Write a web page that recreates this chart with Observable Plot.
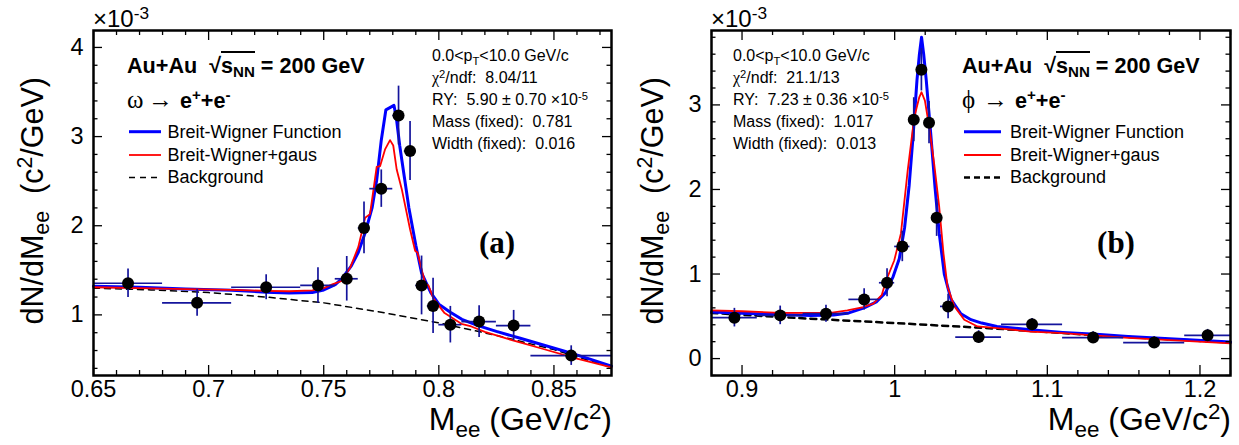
<!DOCTYPE html>
<html><head><meta charset="utf-8">
<script src="https://cdn.jsdelivr.net/npm/d3@7"></script>
<script src="https://cdn.jsdelivr.net/npm/@observablehq/plot@0.6"></script>
<style>
body{margin:0;background:#fff;}
#wrap{position:relative;width:1239px;height:445px;overflow:hidden;font-family:"Liberation Sans",Arial,sans-serif;}
.panel{position:absolute;top:0;height:445px;}
.t{position:absolute;white-space:nowrap;line-height:1;color:#000;}
.sb,.sp{position:relative;font-size:0.7em;line-height:0;vertical-align:baseline;}
.sb{top:0.3em}.sp{top:-0.5em}
.ser{font-family:"Liberation Serif","Times New Roman",serif;}
svg.ov{position:absolute;left:0;top:0;pointer-events:none;}
</style></head><body>
<div id="wrap"><div id="pa" class="panel" style="left:0;width:620px"></div><div id="pb" class="panel" style="left:620px;width:619px"></div></div>
<script>
// ---------- Panel (a): omega -> e+e- ----------
const omegaX   = [0.665,0.695,0.725,0.7475,0.76,0.7675,0.775,0.7825,0.7875,0.7925,0.7975,0.805,0.8175,0.8325,0.8575];
const omegaY   = [1.355,1.135,1.31,1.33,1.405,1.975,2.416,3.236,2.838,1.33,1.10,0.89,0.925,0.88,0.543];
const omegaErr = [0.16,0.15,0.14,0.20,0.25,0.29,0.21,0.33,0.33,0.33,0.31,0.205,0.178,0.17,0.11];
const omegaLo  = [0.65,0.68,0.71,0.74,0.755,0.765,0.77,0.78,0.785,0.79,0.795,0.80,0.81,0.825,0.84];
const omegaHi  = [0.68,0.71,0.74,0.755,0.765,0.77,0.78,0.785,0.79,0.795,0.80,0.81,0.825,0.84,0.875];
const omegaBWx = [0.65,0.67,0.69,0.71,0.725,0.735,0.745,0.75,0.755,0.758,0.762,0.765,0.768,0.771,0.773,0.775,0.777,0.7805,0.7815,0.783,0.785,0.787,0.79,0.7925,0.7965,0.80,0.805,0.81,0.817,0.825,0.835,0.845,0.855,0.865,0.875];
const omegaBWy = [1.32,1.31,1.29,1.275,1.255,1.245,1.25,1.28,1.34,1.41,1.55,1.70,1.92,2.20,2.51,2.96,3.30,3.35,3.22,2.90,2.55,2.20,1.78,1.47,1.25,1.12,1.03,0.95,0.88,0.815,0.74,0.665,0.59,0.51,0.425];
const omegaBWGx = [0.65,0.67,0.69,0.71,0.725,0.735,0.745,0.75,0.754,0.7578,0.7615,0.765,0.768,0.7701,0.7723,0.773,0.7745,0.7767,0.7788,0.7802,0.7817,0.7839,0.7875,0.7897,0.7907,0.7941,0.7955,0.7977,0.8025,0.8098,0.8141,0.82,0.83,0.845,0.86,0.875];
const omegaBWGy = [1.31,1.30,1.29,1.28,1.27,1.265,1.275,1.30,1.345,1.38,1.53,1.76,2.09,2.13,2.53,2.66,2.67,2.86,2.96,2.90,2.63,2.41,1.96,1.72,1.70,1.35,1.33,1.18,1.02,0.90,0.87,0.81,0.73,0.62,0.51,0.41];
const omegaBGx = [0.65,0.675,0.70,0.725,0.75,0.775,0.80,0.825,0.85,0.875];
const omegaBGy = [1.30,1.28,1.25,1.20,1.135,1.03,0.91,0.77,0.61,0.41];
const omegaXTicks = [0.65,0.7,0.75,0.8,0.85];
const omegaXTickLabels = ["0.65","0.7","0.75","0.8","0.85"];
const omegaYTicks = [1,2,3,4];
const omegaYTickLabels = ["1","2","3","4"];

// ---------- Panel (b): phi -> e+e- ----------
const phiX   = [0.895,0.925,0.955,0.98,0.995,1.005,1.0125,1.0175,1.0225,1.0275,1.035,1.055,1.09,1.13,1.17,1.205];
const phiY   = [0.484,0.511,0.531,0.70,0.897,1.326,2.825,3.415,2.79,1.665,0.617,0.255,0.405,0.248,0.189,0.275];
const phiErr = [0.11,0.11,0.10,0.125,0.165,0.18,0.26,0.25,0.25,0.22,0.145,0.075,0.07,0.07,0.07,0.07];
const phiLo  = [0.88,0.91,0.94,0.97,0.99,1.00,1.01,1.015,1.02,1.025,1.03,1.04,1.07,1.11,1.15,1.19];
const phiHi  = [0.91,0.94,0.97,0.99,1.00,1.01,1.015,1.02,1.025,1.03,1.04,1.07,1.11,1.15,1.19,1.22];
const phiBWx = [0.88,0.90,0.925,0.945,0.96,0.97,0.98,0.988,0.994,0.999,1.003,1.0065,1.0095,1.012,1.0146,1.0162,1.0176,1.019,1.0207,1.0238,1.0264,1.0292,1.0325,1.0369,1.0434,1.05,1.057,1.067,1.089,1.11,1.132,1.153,1.18,1.22];
const phiBWy = [0.55,0.535,0.52,0.51,0.515,0.54,0.60,0.67,0.78,0.97,1.18,1.55,2.05,2.62,3.29,3.60,3.80,3.60,3.29,2.62,2.03,1.48,1.00,0.70,0.53,0.46,0.42,0.38,0.34,0.31,0.287,0.26,0.235,0.195];
const phiBWGx = [0.88,0.90,0.925,0.945,0.958,0.969,0.9795,0.986,0.9915,0.9943,0.9997,1.0041,1.0085,1.0128,1.0161,1.0176,1.0198,1.0227,1.0259,1.0292,1.032,1.0346,1.039,1.0456,1.0543,1.067,1.089,1.11,1.153,1.19,1.22];
const phiBWGy = [0.57,0.56,0.54,0.54,0.54,0.57,0.61,0.65,0.75,0.92,1.16,1.48,2.22,2.85,3.09,3.15,3.05,2.73,2.30,1.79,1.24,0.85,0.62,0.46,0.38,0.36,0.32,0.30,0.245,0.21,0.18];
const phiBGx = [0.88,0.936,1.0,1.067,1.132,1.22];
const phiBGy = [0.54,0.48,0.42,0.354,0.275,0.19];
const phiXTicks = [0.9,1.0,1.1,1.2];
const phiXTickLabels = ["0.9","1","1.1","1.2"];
const phiYTicks = [0,1,2,3];
const phiYTickLabels = ["0","1","2","3"];

const ERR = "#14149c";

function minorTicks(lo, hi, step, majorStep) {
  const out = [];
  const n0 = Math.ceil(lo / step - 1e-9), n1 = Math.floor(hi / step + 1e-9);
  for (let n = n0; n <= n1; n++) {
    const v = +(n * step).toFixed(6);
    const r = v / majorStep;
    if (Math.abs(r - Math.round(r)) > 1e-6) out.push(v);
  }
  return out;
}

function makePanel(el, c) {
  const W = c.width, H = 445, mT = 30, mB = 70;
  const pw = W - c.mL - c.mR, ph = H - mT - mB;
  const pts = c.x.map((x, i) => ({x, y: c.y[i], e: c.e[i], lo: c.lo[i], hi: c.hi[i]}));
  const ln = (xs, ys) => xs.map((x, i) => ({x, y: ys[i]}));
  const xMinor = minorTicks(c.xDomain[0], c.xDomain[1], c.xMinorStep, c.xMajorStep);
  const yMinor = minorTicks(c.yDomain[0], c.yDomain[1], 0.2, 1);
  const tk = {stroke: "black", strokeWidth: 1.3};
  const chart = Plot.plot({
    width: W, height: H, marginLeft: c.mL, marginRight: c.mR, marginTop: mT, marginBottom: mB,
    x: {domain: c.xDomain, axis: null},
    y: {domain: c.yDomain, axis: null},
    style: {background: "transparent", overflow: "visible", fontFamily: "Liberation Sans, Arial, sans-serif"},
    marks: [
      Plot.line(ln(c.bgx, c.bgy), {x: "x", y: "y", stroke: "black", strokeWidth: c.bgW, strokeDasharray: c.bgDash}),
      Plot.line(ln(c.bwx, c.bwy), {x: "x", y: "y", stroke: "#0000ff", strokeWidth: 3}),
      Plot.line(ln(c.bwgx, c.bwgy), {x: "x", y: "y", stroke: "#ff0000", strokeWidth: 1.8}),
      Plot.ruleY(pts, {y: "y", x1: "lo", x2: "hi", stroke: ERR, strokeWidth: 1.7}),
      Plot.ruleX(pts, {x: "x", y1: d => d.y - d.e, y2: d => d.y + d.e, stroke: ERR, strokeWidth: 1.7}),
      Plot.dot(pts, {x: "x", y: "y", r: 6, fill: "black", stroke: "none"}),
      Plot.tickX(c.xTicks, {x: d => d, insetTop: ph - 10, ...tk}),
      Plot.tickX(c.xTicks, {x: d => d, insetBottom: ph - 10, ...tk}),
      Plot.tickX(xMinor, {x: d => d, insetTop: ph - 5, ...tk}),
      Plot.tickX(xMinor, {x: d => d, insetBottom: ph - 5, ...tk}),
      Plot.tickY(c.yTicks, {y: d => d, insetRight: pw - 9, ...tk}),
      Plot.tickY(c.yTicks, {y: d => d, insetLeft: pw - 9, ...tk}),
      Plot.tickY(yMinor, {y: d => d, insetRight: pw - 4.5, ...tk}),
      Plot.tickY(yMinor, {y: d => d, insetLeft: pw - 4.5, ...tk}),
      Plot.frame({stroke: "black", strokeWidth: 2.5}),
      Plot.text(c.xTicks, {x: d => d, frameAnchor: "bottom", lineAnchor: "top", dy: 5, text: (d, i) => c.xTickLabels[i], fontSize: 23.5, fill: "black"}),
      Plot.text(c.yTicks, {y: d => d, frameAnchor: "left", textAnchor: "end", dx: -10, text: (d, i) => c.yTickLabels[i], fontSize: 23.5, fill: "black"})
    ]
  });
  el.appendChild(chart);
}

function txt(parent, html, o) {
  const d = document.createElement("div");
  d.className = "t" + (o.serif ? " ser" : "");
  d.innerHTML = html;
  const fs = o.size;
  d.style.fontSize = fs + "px";
  if (o.bold) d.style.fontWeight = "bold";
  if (o.rotate) {
    d.style.left = (o.x - 0.8465 * fs) + "px";
    d.style.top = o.base + "px";
    d.style.transformOrigin = "0 0";
    d.style.transform = "rotate(-90deg) translateX(-100%)";
  } else {
    d.style.left = o.x + "px";
    d.style.top = (o.base - 0.8465 * fs) + "px";
    if (o.anchor === "end") d.style.transform = "translateX(-100%)";
    if (o.anchor === "middle") d.style.transform = "translateX(-50%)";
  }
  parent.appendChild(d);
  return d;
}

function legendLines(parent, w, x1, x2, dash) {
  const ns = "http://www.w3.org/2000/svg";
  const s = document.createElementNS(ns, "svg");
  s.setAttribute("class", "ov"); s.setAttribute("width", w); s.setAttribute("height", 445);
  const items = [[131.7, "#0000ff", 3, null], [155, "#ff0000", 1.8, null], [177.5, "#000", dash[0], dash[1]]];
  for (const [y, col, sw, da] of items) {
    const l = document.createElementNS(ns, "line");
    l.setAttribute("x1", x1); l.setAttribute("x2", x2); l.setAttribute("y1", y); l.setAttribute("y2", y);
    l.setAttribute("stroke", col); l.setAttribute("stroke-width", sw);
    if (da) l.setAttribute("stroke-dasharray", da);
    s.appendChild(l);
  }
  parent.appendChild(s);
}

function annotate(el, a) {
  const W = a.width;
  txt(el, "×10<span class='sp' style='font-size:0.72em;top:-0.45em'>-3</span>", {x: a.frameL, base: 27, size: 24});
  txt(el, "dN/dM<span class='sb'>ee</span>&nbsp;&nbsp;(c<span class='sp'>2</span>/GeV)", {x: 43, base: 77, size: 30.5, rotate: true});
  txt(el, "M<span class='sb'>ee</span> (GeV/c<span class='sp'>2</span>)", {x: a.frameR, base: 430, size: 32, anchor: "end"});
  // title
  txt(el, "Au+Au&nbsp; √<span style='border-top:2px solid #000'>s<span class='sb'>NN</span></span> = 200 GeV", {x: a.titleX, base: 73, size: 21.6, bold: true});
  txt(el, a.particle, {x: a.titleX, base: 108, size: 25, serif: true});
  txt(el, "→", {x: a.titleX + 21, base: 108, size: 25, serif: true});
  txt(el, "e<span class='sp'>+</span>+e<span class='sp'>-</span>", {x: a.titleX + 53, base: 108, size: 21.6, bold: true});
  // legend
  legendLines(el, W, a.legX1, a.legX2, a.legDash);
  txt(el, "Breit-Wigner Function", {x: a.legTX, base: 137.8, size: 18});
  txt(el, "Breit-Wigner+gaus", {x: a.legTX, base: 161, size: 18});
  txt(el, "Background", {x: a.legTX, base: 183.5, size: 18});
  // stats
  const sx = a.statX, fs = 16;
  txt(el, "0.0&lt;p<span class='sb'>T</span>&lt;10.0 GeV/c", {x: sx, base: 62, size: fs});
  txt(el, "<span class='ser'>χ</span><span class='sp'>2</span>/ndf:&nbsp; " + a.chi, {x: sx, base: 84, size: fs});
  txt(el, "RY:&nbsp; " + a.ry + " ×10<span class='sp'>-5</span>", {x: sx, base: 106, size: fs});
  txt(el, "Mass (fixed):&nbsp; " + a.mass, {x: sx, base: 127.5, size: fs});
  txt(el, "Width (fixed):&nbsp; " + a.widthv, {x: sx, base: 149.5, size: fs});
  txt(el, a.tag, {x: a.tagX, base: 253, size: 31, bold: true, serif: true, anchor: "middle"});
}

const pa = document.getElementById("pa"), pb = document.getElementById("pb");
makePanel(pa, {width: 620, mL: 93, mR: 9, xDomain: [0.65, 0.875], yDomain: [0.32, 4.19],
  x: omegaX, y: omegaY, e: omegaErr, lo: omegaLo, hi: omegaHi,
  bwx: omegaBWx, bwy: omegaBWy, bwgx: omegaBWGx, bwgy: omegaBWGy, bgx: omegaBGx, bgy: omegaBGy,
  bgW: 1.5, bgDash: "6,5",
  xTicks: omegaXTicks, xTickLabels: omegaXTickLabels, yTicks: omegaYTicks, yTickLabels: omegaYTickLabels,
  xMinorStep: 0.01, xMajorStep: 0.05});
makePanel(pb, {width: 619, mL: 91, mR: 9, xDomain: [0.88, 1.22], yDomain: [-0.2, 3.88],
  x: phiX, y: phiY, e: phiErr, lo: phiLo, hi: phiHi,
  bwx: phiBWx, bwy: phiBWy, bwgx: phiBWGx, bwgy: phiBWGy, bgx: phiBGx, bgy: phiBGy,
  bgW: 2.5, bgDash: "6,5",
  xTicks: phiXTicks, xTickLabels: phiXTickLabels, yTicks: phiYTicks, yTickLabels: phiYTickLabels,
  xMinorStep: 0.02, xMajorStep: 0.1});
annotate(pa, {width: 620, frameL: 93, frameR: 612, titleX: 127, particle: "ω",
  legX1: 129, legX2: 161, legTX: 167.5, legDash: [1.5, "6,5"], statX: 432,
  chi: "8.04/11", ry: "5.90 ± 0.70", mass: "0.781", widthv: "0.016", tag: "(a)", tagX: 497});
annotate(pb, {width: 619, frameL: 91, frameR: 611, titleX: 342, particle: "ϕ",
  legX1: 344, legX2: 381, legTX: 390, legDash: [2.5, "6,4"], statX: 113,
  chi: "21.1/13", ry: "7.23 ± 0.36", mass: "1.017", widthv: "0.013", tag: "(b)", tagX: 496});
</script></body></html>
